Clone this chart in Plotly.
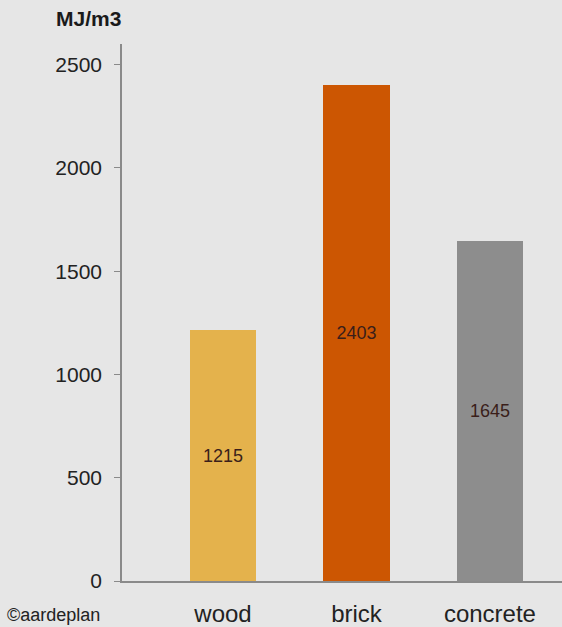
import plotly.graph_objects as go

categories = ["wood", "brick", "concrete"]
values = [1215, 2403, 1645]
colors = ["#e4b24c", "#cc5602", "#8d8d8d"]
y_ticks = [0, 500, 1000, 1500, 2000, 2500]

x_pos = list(range(len(categories)))

fig = go.Figure()
fig.add_trace(go.Bar(
    x=x_pos, y=values, width=0.5,
    marker=dict(color=colors, line=dict(width=0)),
    text=[str(v) for v in values], textposition="inside",
    insidetextanchor="middle", textangle=0,
    textfont=dict(family="Liberation Sans", size=18, color="#3a1e1a"),
    showlegend=False,
))

fig.update_layout(
    width=562, height=627,
    margin=dict(l=122, r=0, t=44, b=46),
    paper_bgcolor="#e6e6e6", plot_bgcolor="#e6e6e6",
    font=dict(family="Liberation Sans", color="#222222"),
    bargap=0,
    xaxis=dict(
        range=[-0.757, 2.54], tickmode="array", tickvals=x_pos, ticktext=categories,
        showgrid=False, zeroline=False, showline=True, linecolor="#8a8a8a", linewidth=1.5,
        ticks="", tickfont=dict(size=24, color="#222222"), ticklabelstandoff=10,
    ),
    yaxis=dict(
        range=[0, 2600], tickmode="array", tickvals=y_ticks,
        showgrid=False, zeroline=False, showline=True, linecolor="#8a8a8a", linewidth=1.5,
        ticks="outside", ticklen=6, tickcolor="#8a8a8a",
        tickfont=dict(size=21, color="#222222"), ticklabelstandoff=8,
    ),
    annotations=[
        dict(text="<b>MJ/m3</b>", xref="paper", yref="paper", x=0, y=1,
             xanchor="right", yanchor="bottom", xshift=1, yshift=12, showarrow=False,
             font=dict(size=21, color="#1a1a1a")),
        dict(text="©aardeplan", xref="paper", yref="paper", x=0, y=0,
             xanchor="right", yanchor="top", xshift=-20, yshift=-22, showarrow=False,
             font=dict(size=18, color="#222222")),
    ],
)

fig.write_html("out.html")
